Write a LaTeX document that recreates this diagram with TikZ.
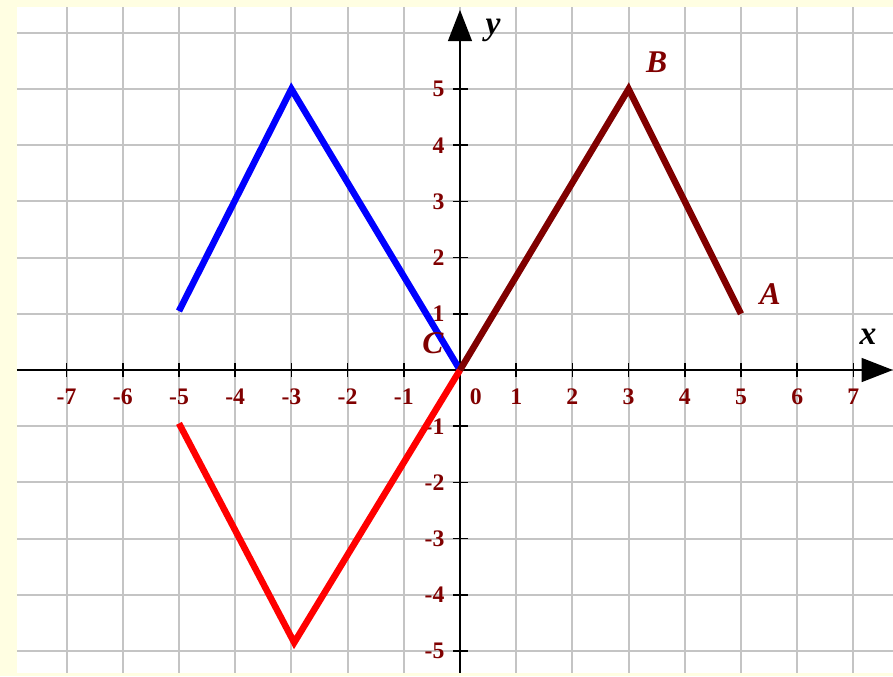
\documentclass[tikz,border=0pt]{standalone}
\usepackage{fontspec}
\setmainfont{Liberation Serif}
\usepackage{tikz}
\usetikzlibrary{
  arrows.meta
}
\definecolor{bgyellow}{RGB}{255,254,226}
\definecolor{gridgray}{RGB}{196,196,196}
\definecolor{darkmaroon}{RGB}{128,0,0}

\begin{document}
\begin{tikzpicture}[
      >={Triangle[length=0.56cm,width=0.42cm]},
      gridline/.style={gridgray, line width=1pt},
      axisline/.style={black, line width=1.5pt},
      tickmark/.style={black, line width=0.8pt},
      ticklabel/.style={text=darkmaroon, inner sep=0pt,
                        font=\fontsize{12}{14}\selectfont\bfseries},
      ptlabel/.style={text=darkmaroon, inner sep=0pt,
                      font=\fontsize{16}{18}\selectfont\bfseries\itshape},
      axlabel/.style={text=black, inner sep=0pt,
                      font=\fontsize{17}{19}\selectfont\bfseries\itshape},
      branch/.style={line width=3.3pt}
  ]
      % Fundo e papel quadriculado
      \useasboundingbox (-8.185,-5.445) rectangle (7.705,6.584);
      \fill[bgyellow] (-8.185,-5.445) rectangle (7.705,6.584);
      \fill[white] (-7.883,-5.39) rectangle (7.705,6.459);
      \foreach \i in {-7,...,7}
          \draw[gridline] (\i,-5.39) -- (\i,6.459);
      \foreach \j in {-5,...,6}
          \draw[gridline] (-7.883,\j) -- (7.705,\j);

      % Eixos
      \coordinate (xstart) at (-7.883,0);
      \coordinate (xend) at (7.705,0);
      \coordinate (ystart) at (0,-5.39);
      \coordinate (yend) at (0,6.41);
      \draw[axisline, ->] (xstart) -- (xend);
      \draw[axisline, ->] (ystart) -- (yend);
      \node[axlabel] (lblx) at (7.26,0.59) {x};
      \node[axlabel] (lbly) at (0.59,6.05) {y};

      % Marcas e numeros
      \foreach \i in {-7,...,-1,1,2,...,7} {
          \draw[tickmark] (\i,-0.12) -- (\i,0.12);
          \node[ticklabel] (tx\i) at (\i,-0.48) {\i};
      }
      \node[ticklabel] (tx0) at (0.28,-0.48) {0};
      \foreach \j in {-5,...,-1,1,2,...,5} {
          \draw[tickmark] (-0.12,\j) -- (0.14,\j);
          \node[ticklabel, anchor=east] (ty\j) at (-0.27,\j) {\j};
      }

      % Graficos
      \coordinate (O) at (0,0);
      \coordinate (A) at (5,1);
      \coordinate (B) at (3,5);
      \coordinate (Bblue) at (-3,5);
      \coordinate (Ablue) at (-5,1.05);
      \coordinate (Bred) at (-2.95,-4.85);
      \coordinate (Ared) at (-5,-0.95);
      \draw[branch, blue] (O) -- (Bblue) -- (Ablue);
      \draw[branch, red] (O) -- (Bred) -- (Ared);
      \draw[branch, darkmaroon] (O) -- (B) -- (A);

      \node[ptlabel] (lblA) at (5.52,1.35) {A};
      \node[ptlabel] (lblB) at (3.5,5.48) {B};
      \node[ptlabel] (lblC) at (-0.48,0.48) {C};
  \end{tikzpicture}
\end{document}
